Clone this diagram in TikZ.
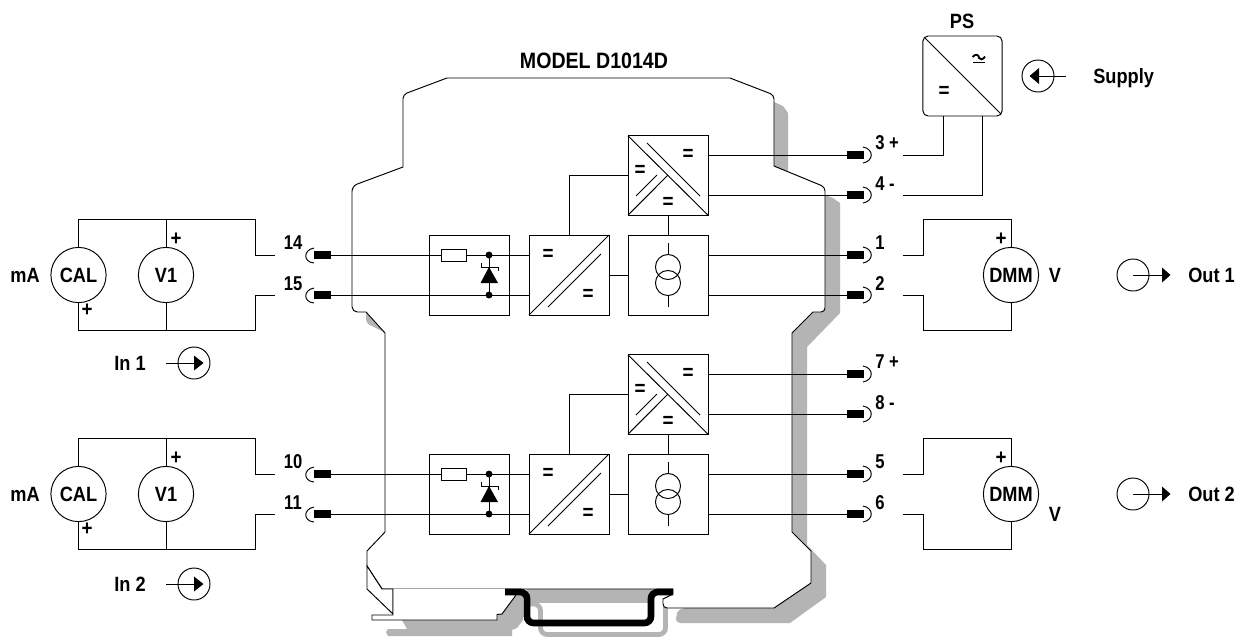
\documentclass[tikz,border=0pt]{standalone}
\usepackage{fontspec}
\setmainfont[FakeStretch=0.88]{Liberation Sans}
\newfontfamily\numfont[FakeStretch=0.83]{Liberation Sans}
\usetikzlibrary{calc}
\definecolor{shadowgrey}{HTML}{B4B4B4}
\tikzset{
  px/.style={x=0.75pt,y=-0.75pt},
  wire/.style={draw=black,line width=0.72pt},
  lab/.style={font=\fontsize{15.5pt}{16pt}\selectfont\bfseries,inner sep=0,text=black},
  numlab/.style={font=\fontsize{15pt}{16pt}\numfont\bfseries,inner sep=0,text=black},
  eqs/.style={font=\fontsize{16pt}{16pt}\selectfont\bfseries,inner sep=0,text=black},
  blockbox/.style={draw=black,line width=0.72pt,minimum width=60pt,minimum height=60pt,inner sep=0,outer sep=0},
  meter/.style={circle,draw=black,line width=0.72pt,minimum size=41.4pt,inner sep=0,outer sep=0,font=\fontsize{15.5pt}{16pt}\selectfont\bfseries},
  port/.style={circle,draw=black,line width=0.72pt,minimum size=24pt,inner sep=0,outer sep=0},
  termin/.style={fill=black,minimum width=12.8pt,minimum height=6pt,inner sep=0,outer sep=0},
  shadow/.style={fill=shadowgrey,draw=none},
  hook/.style={draw=black,line width=0.72pt},
  railb/.style={draw=black,line width=5pt,rounded corners=5pt},
}
% right terminal: name, y
\newcommand{\rterm}[2]{%
  \node[termin] (#1) at (855.5,#2) {};
  \draw[hook] (863,#2-8) .. controls (874,#2-6) and (874,#2+6) .. (863,#2+8);
}
% left terminal
\newcommand{\lterm}[2]{%
  \node[termin] (#1) at (322.5,#2) {};
  \draw[hook] (314,#2-7) .. controls (303,#2-5) and (303,#2+7) .. (314,#2+8);
}
% whole channel
\newcommand{\channel}[9]{%
  \pgfmathsetmacro{\dy}{#2}
  % blocks
  \node[blockbox] (#1prot) at (469,275+\dy) {};
  \node[blockbox] (#1conv) at (569,275+\dy) {};
  \node[blockbox] (#1xfmr) at (668,275+\dy) {};
  \node[blockbox,minimum height=59.5pt] (#1dc) at (668,175.5+\dy) {};
  % terminals
  \lterm{#1ta}{255+\dy}
  \lterm{#1tb}{295+\dy}
  \rterm{#1tc}{255+\dy}
  \rterm{#1td}{295+\dy}
  \rterm{#1te}{155+\dy}
  \rterm{#1tf}{195+\dy}
  \node[numlab] at (293,243+\dy) {#3};
  \node[numlab] at (293,284+\dy) {#4};
  \node[numlab,anchor=west] at (875,143+\dy) {#7};
  \node[numlab,anchor=west] at (875,184+\dy) {#8};
  \node[numlab,anchor=west] at (875,243+\dy) {#5};
  \node[numlab,anchor=west] at (875,284+\dy) {#6};
  % wires
  \draw[wire] (#1ta.east) -- (#1ta.east -| #1conv.west);
  \draw[wire] (#1tb.east) -- (#1tb.east -| #1conv.west);
  \draw[wire] (#1tc.west -| #1xfmr.east) -- (#1tc.west);
  \draw[wire] (#1td.west -| #1xfmr.east) -- (#1td.west);
  \draw[wire] (#1te.west -| #1dc.east) -- (#1te.west);
  \draw[wire] (#1tf.west -| #1dc.east) -- (#1tf.west);
  \draw[wire] (#1conv.east) -- (#1xfmr.west);
  \draw[wire] (#1dc.south) -- (#1xfmr.north);
  \draw[wire] (#1conv.north) |- (#1dc.west);
  % protection block
  \draw[wire,fill=white] (441,249+\dy) rectangle (466,261+\dy);
  \draw[wire] (489,255+\dy) -- (489,295+\dy);
  \fill (489,255+\dy) circle[radius=2.6pt];
  \fill (489,295+\dy) circle[radius=2.6pt];
  \fill (489,267+\dy) -- (498,283+\dy) -- (480.5,283+\dy) -- cycle;
  \draw[wire] (481,263+\dy) -- (481,267+\dy) -- (498,267+\dy) -- (498,271+\dy);
  % converter
  \draw[wire] (#1conv.south west) -- (#1conv.north east);
  \draw[wire] (548,307+\dy) -- (601,254+\dy);
  \node[eqs] at (548,255+\dy) {=};
  \node[eqs] at (588,295+\dy) {=};
  % transformer
  \draw[wire] (668,267+\dy) circle[radius=9.4pt];
  \draw[wire] (668,283+\dy) circle[radius=9.4pt];
  \draw[wire] (668,243+\dy) -- (668,254.5+\dy);
  \draw[wire] (668,295.5+\dy) -- (668,307+\dy);
  % dc dc
  \draw[wire] (#1dc.north west) -- (#1dc.south east);
  \draw[wire] (#1dc.south west) -- (668,175+\dy);
  \draw[wire] (647,143+\dy) -- (700,196+\dy);
  \draw[wire] (636,196+\dy) -- (657,175+\dy);
  \node[eqs] at (688,155+\dy) {=};
  \node[eqs] at (640,171+\dy) {=};
  \node[eqs] at (668,203+\dy) {=};
  % input loop
  \node[meter] (#1cal) at (78.5,275+\dy) {CAL};
  \node[meter] (#1vm) at (166,275+\dy) {V1};
  \node[meter] (#1dmm) at (1011,275+\dy) {DMM};
  \coordinate (#1ia) at (275,255+\dy);
  \coordinate (#1ib) at (275,295+\dy);
  \coordinate (#1oa) at (903,255+\dy);
  \coordinate (#1ob) at (903,295+\dy);
  \draw[wire] (#1cal.north) -- (78.5,219+\dy) -- (255,219+\dy) -- (255,255+\dy) -- (#1ia);
  \draw[wire] (#1cal.south) -- (78.5,330+\dy) -- (255,330+\dy) -- (255,295+\dy) -- (#1ib);
  \draw[wire] (#1vm.north) -- (166,219+\dy);
  \draw[wire] (#1vm.south) -- (166,330+\dy);
  \draw[wire] (#1oa) -- (923,255+\dy) -- (923,219+\dy) -- (1011,219+\dy) -- (#1dmm.north);
  \draw[wire] (#1ob) -- (923,295+\dy) -- (923,330+\dy) -- (1011,330+\dy) -- (#1dmm.south);
  \node[lab] at (25,275+\dy) {mA};
  \node[eqs] at (176,239+\dy) {+};
  \node[eqs] at (87,310+\dy) {+};
  \node[eqs] at (1001,239+\dy) {+};
  \node[lab] at (1055,#9+\dy) {V};
}
\newcommand{\inport}[3]{%
  \node[port] (#1) at (#2,#3) {};
  \coordinate (#1f) at (#2-28,#3);
  \draw[wire] (#1f) -- (#1.center);
  \fill (#2,#3-7.5) -- (#2+9.5,#3) -- (#2,#3+7.5) -- cycle;
}
\newcommand{\outport}[3]{%
  \node[port] (#1) at (#2,#3) {};
  \coordinate (#1f) at (#2+29,#3);
  \draw[wire] (#1.center) -- (#1f);
  \fill (#2+29,#3-7.5) -- (#2+37.5,#3) -- (#2+29,#3+7.5) -- cycle;
}
\begin{document}
\begin{tikzpicture}[px]
\useasboundingbox (0,0) rectangle (1248,637);
\fill[white] (0,0) rectangle (1248,637);
% ---------- shadows
\path[shadow] (774,102) -- (783,106) -- (788,113) -- (788,171) -- (774,166) -- cycle;
\path[shadow] (825,195) -- (833,198) -- (840,203) -- (840,313) -- (807,347) -- (807,545) -- (826,565) -- (826,597) -- (790,623) -- (680,623) .. controls (677,622) and (676,621) .. (676,619) -- (677,613) .. controls (678,610) and (682,608) .. (687,608) -- (790,590) -- (790,300) -- cycle;
\path[shadow] (402,620) -- (407,629) -- (388,629) -- (386,632) -- (388,636) -- (512,636) -- (512,630) -- (517,628) -- (523,620) -- (523,594) -- (500,600) -- cycle;
\path[shadow] (366,313) -- (383,331.5) -- (372,326) .. controls (368,325) and (366,322) .. (366,318) -- cycle;
\path[shadow] (527,589) rectangle (652,603);
\draw[shadowgrey,line width=3.6pt,rounded corners=5pt] (530,604) -- (540.5,604) -- (540.5,634.5) -- (665.5,634.5) -- (665.5,606);
\draw[shadowgrey,line width=0.8pt] (386.5,333) -- (386.5,532);
% ---------- body
\path[fill=white,draw=black,line width=0.72pt]
  (447,78) -- (730,78)
  [rounded corners=3pt] -- (774,95) [sharp corners] -- (774,166)
  [rounded corners=3pt] -- (825,187) -- (825,312) [sharp corners] -- (813,312)
  -- (792,333) -- (792,532) -- (811,551) -- (811,583) -- (774,608)
  [rounded corners=3pt] -- (663,608) [sharp corners] -- (663,599) -- (673,594) -- (673,589)
  -- (382,589) -- (367,566) -- (367,551) -- (385,532) -- (385,333) -- (366,312)
  [rounded corners=4pt] -- (352,312) -- (352,186) [sharp corners] -- (403,167)
  [rounded corners=3pt] -- (403,94.5) [sharp corners] -- cycle;
\path[fill=white,draw=black,line width=0.72pt] (367,566) -- (367,589) -- (393,614) -- (393,589) -- (382,589) -- cycle;
\path[fill=white,draw=black,line width=0.72pt] (393,589) -- (393,615) -- (372,615) -- (372,620) -- (497,620) -- (497,614.5) -- (502,614) -- (516,595) -- (516,589);
% ---------- rail
\draw[railb] (505,592) -- (527,592) -- (527,623) -- (651,623) -- (651,592) -- (673,592);
% ---------- channels
\channel{u}{0}{14}{15}{1}{2}{3 +}{4 -}{275}
\channel{l}{219}{10}{11}{5}{6}{7 +}{8 -}{295}
% ---------- labels
\node[font=\fontsize{16.7pt}{17pt}\selectfont\bfseries,inner sep=0] (model) at (594,61) {MODEL D1014D};
\inport{pa}{194}{363}
\inport{pb}{194}{584}
\node[lab] at (130,363) {In 1};
\node[lab] at (130,584) {In 2};
\outport{qa}{1133}{275}
\outport{qb}{1133}{494}
\node[lab,anchor=west] at (1188,275) {Out 1};
\node[lab,anchor=west] at (1188,494) {Out 2};
% ---------- power supply
\node[draw=black,line width=0.72pt,rounded corners=4pt,minimum width=59.5pt,minimum height=60pt,inner sep=0,outer sep=0] (ps) at (962.5,76) {};
\draw[wire] (925,38) -- (1001,114);
\node[lab] at (962,21) {PS};
\node[eqs] at (944,92) {=};
\draw[wire,line width=1.4pt] (972.5,57) .. controls (976,53) and (979,55) .. (979,58) .. controls (980,60) and (983,60) .. (985,56.5);
\draw[wire,line width=1.2pt] (972.5,62.5) -- (985,62.5);
\coordinate (sa) at (903,155);
\coordinate (sb) at (903,195);
\draw[wire] (sa) -| (ps.south -| 943,116);
\draw[wire] (sb) -| (ps.south -| 982,116);
\node[port] (sup) at (1038,76) {};
\coordinate (supf) at (1066,76);
\draw[wire] (sup.center) -- (supf);
\fill (1039,68) -- (1029.5,76) -- (1039,84) -- cycle;
\node[lab,anchor=west] at (1093,78) {Supply};
\end{tikzpicture}
\end{document}
